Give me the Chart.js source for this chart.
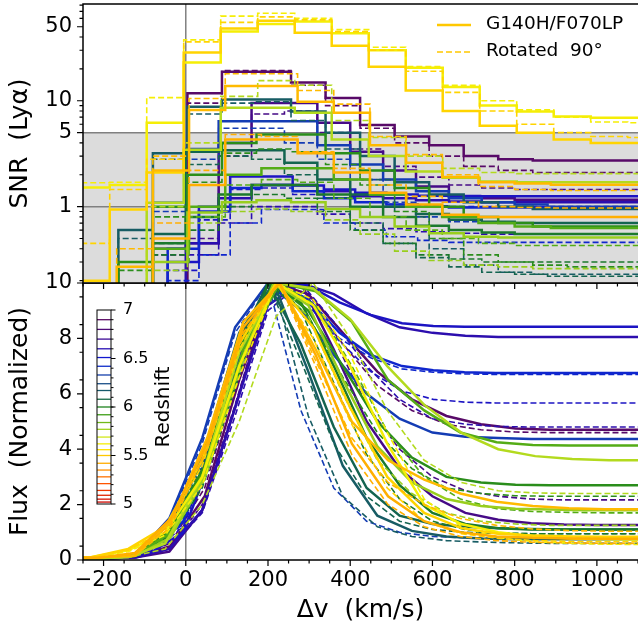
<!DOCTYPE html>
<html>
<head>
<meta charset="utf-8">
<script src="https://cdn.jsdelivr.net/npm/chart.js@4.4.1/dist/chart.umd.min.js"></script>
<style>
  html, body { margin: 0; padding: 0; background: #fff; }
  #wrap { position: relative; width: 638px; height: 628px; overflow: hidden; }
  #wrap canvas { position: absolute; left: 0; }
  #snrCanvas { top: 0; }
  #fluxCanvas { top: 270px; }
</style>
</head>
<body>
<div id="wrap">
  <canvas id="fluxCanvas" width="638" height="358"></canvas>
  <canvas id="snrCanvas" width="638" height="292"></canvas>
</div>
<script>
// axes
const xMin = -250, xMax = 1100;
const xTicks = [-200, 0, 200, 400, 600, 800, 1000];
const snrMin = 0.19, snrMax = 82;
const snrTicks = [1, 5, 10, 50];
const snrGuides = [1, 5];
const snrLimit = 5;
const fluxTicks = [0, 2, 4, 6, 8, 10];
const cbarTicks = [5, 5.5, 6, 6.5, 7];
const cbarLevels = [6.9, 6.8, 6.7, 6.6, 6.51, 6.42, 6.33, 6.24, 6.17, 6.08, 6.0, 5.92, 5.84, 5.77,
                    5.69, 5.62, 5.56, 5.5, 5.42, 5.35, 5.28, 5.21, 5.14, 5.09, 5.05, 5.02];
const legendLabels = ['G140H/F070LP', 'Rotated  90\u00b0'];

// velocity sampling of the spectra (km/s, bin centres)
const gridA = [-320, -230, -140, -50, 40, 130, 220, 310, 400, 490, 580, 670, 760, 850, 940, 1030, 1120, 1210];
const gridB = [-300, -212, -124, -36, 52, 140, 228, 316, 404, 492, 580, 668, 756, 844, 932, 1020, 1108, 1196];
const gridC = [-290, -206, -122, -38, 46, 130, 214, 298, 382, 466, 550, 634, 718, 802, 886, 970, 1054, 1138];
const gridD = [-280, -200, -120, -40, 40, 120, 200, 280, 360, 440, 520, 600, 680, 760, 840, 920, 1000, 1080, 1160];
const gridE = [-310, -234, -158, -82, -6, 70, 146, 222, 298, 374, 450, 526, 602, 678, 754, 830, 906, 982, 1058, 1134];

// one entry per galaxy, lowest redshift first
const objRedshift = [5.43, 5.46, 5.53, 5.62, 5.74, 5.78, 5.88, 5.97, 6.03, 6.10, 6.15, 6.35, 6.45, 6.55, 6.62, 6.75, 6.88];
const objGrid = [gridB, gridB, gridA, gridA, gridA, gridC, gridB, gridC, gridD, gridD, gridC, gridD, gridE, gridE, gridD, gridD, gridC];

const snrMain = [
  [0.05, 0.05, 0.05, 0.5, 1.6, 4.3, 4.3, 3.2, 2.1, 1.35, 1.05, 0.84, 0.8, 0.8, 0.8, 0.8, 0.8, 0.8],
  [0.05, 0.05, 0.27, 2.2, 8.2, 13.8, 13.8, 9.8, 7.7, 3.8, 2.6, 1.9, 1.7, 1.65, 1.61, 1.61, 1.61, 1.61],
  [0.2, 0.2, 0.94, 2.1, 28.6, 48, 57, 44, 33, 21, 12.5, 8.0, 5.8, 5.0, 4.3, 4.0, 4.0, 4.0],
  [1.5, 1.52, 1.6, 6.2, 23, 45, 53, 56, 43.5, 30, 20.5, 13.5, 9.0, 7.9, 7.1, 6.9, 6.9, 6.9],
  [0.05, 0.05, 0.05, 1.09, 3.45, 8.6, 8.6, 7.7, 4.3, 3.0, 2.15, 1.87, 1.73, 1.7, 1.7, 1.7, 1.7, 1.7],
  [0.05, 0.05, 0.05, 0.3, 0.88, 1.1, 1.15, 1.1, 0.95, 0.8, 0.65, 0.56, 0.52, 0.51, 0.51, 0.51, 0.51, 0.51],
  [0.05, 0.05, 0.05, 0.4, 1.0, 2.0, 2.3, 2.3, 1.8, 1.3, 1.0, 0.8, 0.7, 0.65, 0.63, 0.63, 0.63, 0.63],
  [0.05, 0.05, 0.3, 1.0, 2.0, 4.0, 4.8, 4.8, 3.2, 2.2, 1.5, 1.0, 0.8, 0.7, 0.65, 0.65, 0.65, 0.65],
  [0.05, 0.05, 0.05, 0.45, 0.8, 1.3, 1.6, 1.6, 1.3, 1.0, 0.8, 0.66, 0.6, 0.57, 0.55, 0.55, 0.55, 0.55, 0.55],
  [0.05, 0.05, 0.05, 0.55, 3.3, 3.4, 3.4, 2.6, 1.8, 1.3, 1.0, 0.85, 0.75, 0.72, 0.7, 0.7, 0.7, 0.7, 0.7],
  [0.05, 0.05, 0.6, 3.2, 8.8, 10.3, 10.3, 7.9, 5.0, 3.0, 1.7, 1.3, 1.1, 1.0, 0.95, 0.95, 0.95, 0.95],
  [0.05, 0.05, 0.05, 1.09, 3.5, 6.4, 6.4, 6.4, 3.8, 2.5, 1.8, 1.4, 1.2, 1.1, 1.05, 1.0, 1.0, 1.0, 1.0],
  [0.05, 0.05, 0.05, 0.05, 0.4, 0.9, 1.5, 1.6, 1.4, 1.2, 1.1, 1.05, 1.0, 0.98, 0.98, 0.98, 0.98, 0.98, 0.98, 0.98],
  [0.05, 0.05, 0.05, 0.05, 0.3, 1.0, 1.93, 1.93, 1.58, 1.45, 1.35, 1.3, 1.27, 1.26, 1.25, 1.25, 1.25, 1.25, 1.25, 1.25],
  [0.05, 0.05, 0.05, 0.05, 0.45, 1.2, 1.6, 1.6, 1.4, 1.25, 1.2, 1.15, 1.12, 1.1, 1.1, 1.1, 1.1, 1.1, 1.1],
  [0.05, 0.05, 0.05, 0.4, 0.45, 4.0, 9.5, 9.5, 6.2, 3.3, 2.2, 1.55, 1.25, 1.2, 1.16, 1.16, 1.16, 1.16, 1.16],
  [0.05, 0.05, 0.05, 0.05, 11.8, 18.8, 18.8, 14.9, 10.6, 5.9, 4.6, 3.8, 3.0, 2.8, 2.73, 2.73, 2.73, 2.73]
];

const snrRotated = [
  [0.05, 0.05, 0.1, 0.7, 2.2, 4.8, 4.6, 3.3, 2.3, 1.6, 1.25, 1.1, 1.0, 0.98, 0.97, 0.97, 0.97, 0.97],
  [0.05, 0.05, 0.4, 3.0, 10.5, 18, 18, 12.5, 9.3, 4.6, 3.1, 2.0, 1.55, 1.45, 1.42, 1.42, 1.42, 1.42],
  [0.45, 0.45, 1.45, 2.8, 36, 55, 62, 58, 45, 30, 19, 12, 8.0, 6.0, 5.0, 4.6, 4.5, 4.5],
  [1.68, 1.68, 1.7, 10.7, 37.6, 63, 67, 60, 47, 32, 21, 14, 10, 8.2, 7.0, 6.3, 6.2, 6.2],
  [0.05, 0.05, 0.05, 1.0, 4.0, 11, 15.5, 14, 6.5, 4.5, 3.0, 2.3, 2.1, 2.05, 2.05, 2.05, 2.05, 2.05],
  [0.05, 0.05, 0.05, 0.25, 0.7, 0.9, 0.95, 0.9, 0.75, 0.55, 0.38, 0.31, 0.28, 0.27, 0.26, 0.26, 0.26, 0.26],
  [0.05, 0.05, 0.05, 0.3, 0.8, 1.6, 1.8, 1.7, 1.2, 0.8, 0.6, 0.5, 0.45, 0.43, 0.43, 0.43, 0.43, 0.43],
  [0.05, 0.05, 0.25, 0.8, 1.7, 3.2, 3.5, 3.3, 2.5, 1.6, 0.9, 0.5, 0.35, 0.3, 0.28, 0.27, 0.27, 0.27],
  [0.05, 0.05, 0.05, 0.35, 0.6, 1.0, 1.3, 1.2, 0.9, 0.6, 0.45, 0.35, 0.32, 0.3, 0.3, 0.3, 0.3, 0.3, 0.3],
  [0.05, 0.05, 0.05, 0.45, 2.5, 3.0, 2.8, 2.0, 1.2, 0.7, 0.45, 0.33, 0.27, 0.24, 0.23, 0.22, 0.22, 0.22, 0.22],
  [0.05, 0.05, 0.5, 2.8, 7.5, 9.5, 9.8, 6.5, 3.5, 1.8, 0.8, 0.4, 0.28, 0.24, 0.23, 0.23, 0.23, 0.23],
  [0.05, 0.05, 0.05, 0.9, 2.8, 5.5, 5.5, 4.0, 2.8, 1.8, 1.1, 0.8, 0.72, 0.7, 0.7, 0.7, 0.7, 0.7, 0.7],
  [0.05, 0.05, 0.05, 0.05, 0.2, 0.35, 0.7, 0.94, 0.94, 0.7, 0.6, 0.52, 0.48, 0.46, 0.46, 0.46, 0.46, 0.46, 0.46, 0.46],
  [0.05, 0.05, 0.05, 0.05, 0.25, 0.75, 1.45, 1.5, 1.3, 1.2, 1.1, 1.05, 1.02, 1.0, 1.0, 1.0, 1.0, 1.0, 1.0, 1.0],
  [0.05, 0.05, 0.05, 0.05, 0.35, 0.7, 1.0, 1.0, 0.85, 0.7, 0.62, 0.58, 0.56, 0.55, 0.55, 0.55, 0.55, 0.55, 0.55],
  [0.05, 0.05, 0.05, 0.35, 0.5, 3.0, 7.5, 8.0, 5.0, 3.5, 2.4, 1.9, 1.6, 1.5, 1.45, 1.45, 1.45, 1.45, 1.45],
  [0.05, 0.05, 0.05, 0.3, 9.5, 19.3, 19.3, 14, 9.0, 5.5, 4.0, 3.0, 2.4, 2.2, 2.1, 2.1, 2.1, 2.1]
];

const fluxMain = [
  [0.05, 0.08, 0.25, 1.5, 4.2, 8.4, 10, 7.4, 4.2, 2.3, 1.4, 1.0, 0.85, 0.8, 0.78, 0.77, 0.77, 0.77],
  [0.08, 0.1, 0.15, 1.4, 4.4, 8.6, 10, 7.6, 5.0, 3.6, 2.9, 2.4, 2.1, 1.95, 1.87, 1.83, 1.83, 1.83],
  [0.05, 0.1, 0.4, 1.2, 3.6, 7.8, 10, 8.4, 5.5, 3.0, 1.7, 1.15, 0.95, 0.88, 0.85, 0.84, 0.84, 0.84],
  [0.05, 0.1, 0.35, 1.0, 3.0, 7.0, 10, 9.2, 7.0, 4.2, 2.0, 1.3, 1.0, 0.85, 0.78, 0.75, 0.74, 0.74],
  [0.05, 0.05, 0.1, 0.6, 3.0, 7.5, 10, 9.8, 8.7, 7.0, 5.6, 4.6, 4.0, 3.75, 3.65, 3.6, 3.6, 3.6],
  [0.05, 0.05, 0.15, 0.8, 3.0, 7.0, 10, 9.2, 6.5, 4.1, 2.8, 2.2, 1.95, 1.85, 1.82, 1.8, 1.8, 1.8],
  [0.05, 0.05, 0.15, 1.0, 3.4, 7.6, 10, 9.7, 8.6, 6.5, 5.4, 4.6, 4.25, 4.15, 4.13, 4.13, 4.13, 4.13],
  [0.05, 0.05, 0.2, 1.1, 3.4, 7.6, 10, 9.0, 7.0, 5.0, 3.7, 3.0, 2.8, 2.72, 2.7, 2.7, 2.7, 2.7],
  [0.05, 0.05, 0.15, 0.9, 2.8, 6.4, 10, 9.3, 7.0, 4.4, 2.7, 1.7, 1.3, 1.15, 1.1, 1.1, 1.1, 1.1, 1.1],
  [0.05, 0.05, 0.2, 1.1, 3.6, 7.6, 10, 7.8, 4.8, 2.6, 1.6, 1.3, 1.2, 1.15, 1.12, 1.1, 1.1, 1.1, 1.1],
  [0.05, 0.05, 0.2, 1.4, 4.0, 8.2, 10, 6.8, 3.4, 1.6, 1.05, 0.85, 0.78, 0.75, 0.75, 0.75, 0.75, 0.75],
  [0.05, 0.05, 0.2, 1.5, 4.4, 8.4, 10, 9.0, 7.4, 6.0, 5.1, 4.6, 4.45, 4.4, 4.37, 4.37, 4.37, 4.37, 4.37],
  [0.05, 0.05, 0.1, 0.4, 1.4, 4.6, 8.5, 10, 9.4, 8.2, 7.4, 7.0, 6.85, 6.78, 6.75, 6.75, 6.75, 6.75, 6.75, 6.75],
  [0.05, 0.05, 0.1, 0.3, 1.0, 4.0, 8.0, 10, 9.9, 9.3, 8.85, 8.55, 8.45, 8.42, 8.42, 8.42, 8.42, 8.42, 8.42, 8.42],
  [0.05, 0.05, 0.1, 0.4, 1.8, 5.5, 9.2, 10, 9.6, 8.9, 8.4, 8.2, 8.1, 8.05, 8.05, 8.05, 8.05, 8.05, 8.05],
  [0.05, 0.05, 0.1, 0.3, 1.8, 5.5, 9.5, 10, 7.6, 5.0, 3.3, 2.3, 1.7, 1.45, 1.33, 1.28, 1.26, 1.26, 1.26],
  [0.05, 0.05, 0.1, 0.5, 2.3, 6.5, 10, 9.6, 8.2, 6.8, 5.8, 5.2, 4.9, 4.75, 4.7, 4.7, 4.7, 4.7]
];

const fluxRotated = [
  [0.05, 0.08, 0.2, 1.3, 4.0, 8.2, 10, 7.0, 3.8, 2.0, 1.2, 0.85, 0.7, 0.64, 0.62, 0.6, 0.6, 0.6],
  [0.08, 0.1, 0.15, 1.2, 4.0, 8.2, 10, 7.2, 4.4, 2.8, 2.0, 1.5, 1.25, 1.12, 1.06, 1.04, 1.04, 1.04],
  [0.05, 0.1, 0.35, 1.1, 3.4, 7.6, 10, 8.0, 5.0, 2.6, 1.4, 0.95, 0.78, 0.7, 0.67, 0.66, 0.66, 0.66],
  [0.05, 0.1, 0.3, 0.9, 2.7, 6.6, 10, 9.4, 7.4, 4.6, 2.2, 1.2, 0.8, 0.66, 0.6, 0.57, 0.56, 0.56],
  [0.05, 0.05, 0.1, 0.4, 2.0, 5.0, 8.8, 10, 8.0, 5.4, 3.6, 2.8, 2.5, 2.42, 2.4, 2.4, 2.4, 2.4],
  [0.05, 0.05, 0.15, 0.8, 2.9, 6.8, 10, 8.8, 6.0, 3.6, 2.4, 1.7, 1.4, 1.3, 1.25, 1.25, 1.25, 1.25],
  [0.05, 0.05, 0.15, 0.9, 3.2, 7.4, 10, 9.2, 7.0, 4.6, 3.0, 2.2, 1.85, 1.75, 1.72, 1.7, 1.7, 1.7],
  [0.05, 0.05, 0.2, 1.0, 3.3, 7.4, 10, 8.8, 6.6, 4.6, 3.3, 2.6, 2.4, 2.32, 2.3, 2.3, 2.3, 2.3],
  [0.05, 0.05, 0.15, 0.8, 2.6, 6.2, 10, 9.0, 6.4, 3.8, 2.2, 1.4, 1.1, 0.98, 0.95, 0.95, 0.95, 0.95, 0.95],
  [0.05, 0.05, 0.2, 1.0, 3.4, 7.4, 10, 7.2, 4.2, 2.3, 1.4, 1.1, 1.0, 0.96, 0.95, 0.95, 0.95, 0.95, 0.95],
  [0.05, 0.05, 0.2, 1.3, 3.8, 8.0, 10, 5.2, 2.3, 1.2, 0.85, 0.7, 0.65, 0.62, 0.6, 0.6, 0.6, 0.6],
  [0.05, 0.05, 0.2, 1.4, 4.2, 8.2, 10, 5.4, 2.6, 1.4, 1.0, 0.85, 0.8, 0.78, 0.78, 0.78, 0.78, 0.78, 0.78],
  [0.05, 0.05, 0.1, 0.4, 1.3, 4.4, 8.3, 10, 9.3, 8.0, 7.3, 6.9, 6.78, 6.72, 6.7, 6.7, 6.7, 6.7, 6.7, 6.7],
  [0.05, 0.05, 0.1, 0.3, 1.2, 4.2, 8.2, 10, 9.2, 7.9, 6.8, 6.1, 5.8, 5.7, 5.67, 5.67, 5.67, 5.67, 5.67, 5.67],
  [0.05, 0.05, 0.1, 0.4, 1.7, 5.2, 9.0, 10, 8.6, 7.0, 5.8, 5.1, 4.9, 4.82, 4.8, 4.8, 4.8, 4.8, 4.8],
  [0.05, 0.05, 0.1, 0.4, 2.0, 5.6, 9.6, 10, 8.0, 5.6, 4.0, 3.0, 2.5, 2.3, 2.2, 2.17, 2.17, 2.17, 2.17],
  [0.05, 0.05, 0.1, 0.6, 2.6, 6.8, 10, 9.4, 7.8, 6.3, 5.4, 4.9, 4.7, 4.62, 4.6, 4.6, 4.6, 4.6]
];

// redshift colour map
const cmapStops = [
  [5.0, [200, 0, 0]], [5.2, [255, 80, 0]], [5.4, [255, 165, 0]], [5.5, [255, 200, 0]],
  [5.6, [255, 240, 0]], [5.7, [205, 230, 30]], [5.8, [140, 200, 30]], [5.9, [70, 165, 20]],
  [6.0, [30, 130, 30]], [6.1, [20, 100, 80]], [6.2, [25, 85, 120]], [6.3, [25, 70, 160]],
  [6.4, [15, 50, 200]], [6.5, [15, 25, 210]], [6.6, [40, 15, 180]], [6.7, [60, 10, 150]],
  [6.8, [80, 10, 120]], [6.9, [90, 10, 100]], [7.0, [50, 0, 50]]
];

function cmap(z) {
    let c = cmapStops[cmapStops.length - 1][1];
    if (z <= cmapStops[0][0]) c = cmapStops[0][1];
    for (let i = 1; i < cmapStops.length; i++) {
        const [z0, c0] = cmapStops[i - 1];
        const [z1, c1] = cmapStops[i];
        if (z >= z0 && z <= z1) {
            const t = (z - z0) / (z1 - z0);
            c = c0.map((v, k) => Math.round(v + (c1[k] - v) * t));
            break;
        }
    }
    return 'rgb(' + c.join(',') + ')';
}

function creaSerie(xs, ys, colore, tratteggiata, gradini) {
    return {
        data: xs.map((x, k) => ({ x: x, y: ys[k] })),
        borderColor: colore,
        borderWidth: tratteggiata ? 1.6 : 2.5,
        borderDash: tratteggiata ? [6, 3] : [],
        stepped: gradini ? 'middle' : false,
        tension: 0,
        pointRadius: 0,
        fill: false,
        clip: 0
    };
}

const snrSets = [];
const fluxSets = [];
objRedshift.forEach((z, i) => {
    const colore = cmap(z);
    snrSets.push(creaSerie(objGrid[i], snrMain[i], colore, false, true));
    snrSets.push(creaSerie(objGrid[i], snrRotated[i], colore, true, true));
    fluxSets.push(creaSerie(objGrid[i], fluxMain[i], colore, false, false));
    fluxSets.push(creaSerie(objGrid[i], fluxRotated[i], colore, true, false));
});

// minor ticks
const xMinor = [];
for (let v = xMin; v <= xMax; v += 50) if (!xTicks.includes(v)) xMinor.push(v);
const snrMinor = [];
[0.1, 1, 10].forEach(d => { for (let m = 2; m <= 9; m++) { const v = m * d; if (v >= snrMin && v <= snrMax && !snrTicks.includes(v)) snrMinor.push(v); } });
const fluxMinor = [];
for (let v = 0.5; v < 10; v += 1) fluxMinor.push(v);

function disegnaCornice(chart, yMajor, yMinor) {
    const { ctx, chartArea: a, scales: { x, y } } = chart;
    ctx.save();
    ctx.strokeStyle = '#000';
    ctx.lineWidth = 1.2;
    ctx.beginPath();
    xTicks.forEach(v => { const p = x.getPixelForValue(v); ctx.moveTo(p, a.bottom); ctx.lineTo(p, a.bottom + 6); });
    xMinor.forEach(v => { const p = x.getPixelForValue(v); ctx.moveTo(p, a.bottom); ctx.lineTo(p, a.bottom + 3.5); });
    yMajor.forEach(v => { const p = y.getPixelForValue(v); ctx.moveTo(a.left, p); ctx.lineTo(a.left - 6, p); });
    yMinor.forEach(v => { const p = y.getPixelForValue(v); ctx.moveTo(a.left, p); ctx.lineTo(a.left - 3.5, p); });
    ctx.stroke();
    ctx.lineWidth = 1.5;
    ctx.beginPath();
    ctx.moveTo(a.right + 2, a.top);
    ctx.lineTo(a.left, a.top);
    ctx.lineTo(a.left, a.bottom);
    ctx.lineTo(a.right + 2, a.bottom);
    ctx.stroke();
    ctx.restore();
}

function lineaZero(chart) {
    const { ctx, chartArea: a, scales: { x } } = chart;
    const x0 = x.getPixelForValue(0);
    ctx.save();
    ctx.strokeStyle = '#808080';
    ctx.lineWidth = 1.5;
    ctx.beginPath();
    ctx.moveTo(x0, a.top);
    ctx.lineTo(x0, a.bottom);
    ctx.stroke();
    ctx.restore();
}

const snrDecor = {
    id: 'snrDecor',
    beforeDatasetsDraw(chart) {
        const { ctx, chartArea: a, scales: { y } } = chart;
        const yLim = y.getPixelForValue(snrLimit);
        ctx.save();
        ctx.fillStyle = '#dcdcdc';
        ctx.fillRect(a.left, yLim, a.right - a.left, a.bottom - yLim);
        ctx.strokeStyle = '#808080';
        ctx.lineWidth = 1.5;
        ctx.beginPath();
        snrGuides.forEach(v => { const p = y.getPixelForValue(v); ctx.moveTo(a.left, p); ctx.lineTo(a.right, p); });
        ctx.stroke();
        ctx.restore();
        lineaZero(chart);
    },
    afterDatasetsDraw(chart) {
        disegnaCornice(chart, snrTicks, snrMinor);
        const { ctx, chartArea: a } = chart;
        const colore = cmap(5.5);
        ctx.save();
        ctx.strokeStyle = colore;
        ctx.lineWidth = 2.5;
        ctx.beginPath();
        ctx.moveTo(a.right - 201, a.top + 21);
        ctx.lineTo(a.right - 167, a.top + 21);
        ctx.stroke();
        ctx.lineWidth = 1.6;
        ctx.setLineDash([6, 3]);
        ctx.beginPath();
        ctx.moveTo(a.right - 201, a.top + 48);
        ctx.lineTo(a.right - 167, a.top + 48);
        ctx.stroke();
        ctx.fillStyle = '#000';
        ctx.font = "18.5px 'DejaVu Sans'";
        ctx.textBaseline = 'middle';
        ctx.textAlign = 'left';
        ctx.fillText(legendLabels[0], a.right - 152, a.top + 20);
        ctx.fillText(legendLabels[1], a.right - 152, a.top + 47.5);
        ctx.restore();
    }
};

const fluxDecor = {
    id: 'fluxDecor',
    beforeDatasetsDraw(chart) {
        lineaZero(chart);
    },
    afterDatasetsDraw(chart) {
        disegnaCornice(chart, fluxTicks, fluxMinor);
        const { ctx, chartArea: a } = chart;
        const left = a.left + 14, top = a.top + 27, w = 14, h = 194;
        const zy = z => top + (7 - z) / 2 * h;
        ctx.save();
        ctx.fillStyle = '#fff';
        ctx.fillRect(left, top, w, h);
        ctx.lineWidth = 1.3;
        cbarLevels.forEach(z => {
            ctx.strokeStyle = cmap(z);
            ctx.beginPath();
            ctx.moveTo(left, zy(z));
            ctx.lineTo(left + w, zy(z));
            ctx.stroke();
        });
        ctx.strokeStyle = '#000';
        ctx.lineWidth = 1;
        ctx.strokeRect(left, top, w, h);
        ctx.beginPath();
        for (let k = 1; k < 20; k++) {
            const p = zy(5 + k * 0.1);
            ctx.moveTo(left + w, p);
            ctx.lineTo(left + w + 2.5, p);
        }
        cbarTicks.forEach(z => { ctx.moveTo(left + w, zy(z)); ctx.lineTo(left + w + 4.5, zy(z)); });
        ctx.stroke();
        ctx.fillStyle = '#000';
        ctx.font = "16px 'DejaVu Sans'";
        ctx.textBaseline = 'middle';
        ctx.textAlign = 'left';
        cbarTicks.forEach(z => ctx.fillText(String(z), left + w + 12, zy(z)));
        ctx.translate(left + w + 53, top + h / 2);
        ctx.rotate(-Math.PI / 2);
        ctx.textAlign = 'center';
        ctx.font = "20px 'DejaVu Sans'";
        ctx.fillText('Redshift', 0, 0);
        ctx.restore();
    }
};

Chart.defaults.font.family = "'DejaVu Sans', sans-serif";
Chart.defaults.color = '#000';

const commonPlugins = { legend: { display: false }, tooltip: { enabled: false } };

const snrChart = new Chart(document.getElementById('snrCanvas'), {
    type: 'line',
    data: { datasets: snrSets },
    options: {
        responsive: false,
        animation: false,
        events: [],
        layout: { padding: { top: 4, left: 0, right: 0, bottom: 0 }, autoPadding: false },
        plugins: commonPlugins,
        scales: {
            x: {
                type: 'linear', min: xMin, max: xMax, bounds: 'data',
                ticks: { display: false },
                grid: { display: false, drawTicks: false },
                border: { display: false },
                afterFit: s => { s.height = 9; s.paddingLeft = 0; s.paddingRight = 0; }
            },
            y: {
                type: 'logarithmic', min: snrMin, max: snrMax, bounds: 'data',
                afterBuildTicks: s => { s.ticks = snrTicks.map(v => ({ value: v })); },
                ticks: { font: { size: 21, lineHeight: 1 }, color: '#000', padding: 11, autoSkip: false, callback: v => String(v) },
                grid: { display: false, drawTicks: false },
                border: { display: false },
                title: { display: true, text: 'SNR  (Ly\u03b1)', font: { size: 25 }, color: '#000', padding: { top: 5, bottom: 0 } },
                afterFit: s => { s.width = 83; s.paddingTop = 0; s.paddingBottom = 0; }
            }
        }
    },
    plugins: [snrDecor]
});

const fluxChart = new Chart(document.getElementById('fluxCanvas'), {
    type: 'line',
    data: { datasets: fluxSets },
    options: {
        responsive: false,
        animation: false,
        events: [],
        layout: { padding: { top: 13, left: 0, right: 0, bottom: 0 }, autoPadding: false },
        plugins: commonPlugins,
        scales: {
            x: {
                type: 'linear', min: xMin, max: xMax, bounds: 'data',
                afterBuildTicks: s => { s.ticks = xTicks.map(v => ({ value: v })); },
                ticks: { font: { size: 21 }, color: '#000', padding: 8, autoSkip: false, maxRotation: 0,
                         callback: v => v < 0 ? '\u2212' + Math.abs(v) : String(v) },
                grid: { display: false, drawTicks: false },
                border: { display: false },
                title: { display: true, text: '\u0394v  (km/s)', font: { size: 25 }, color: '#000', padding: { top: 0, bottom: 3 } },
                afterFit: s => { s.height = 68; s.paddingLeft = 0; s.paddingRight = 0; }
            },
            y: {
                type: 'linear', min: 0, max: 10, bounds: 'data',
                afterBuildTicks: s => { s.ticks = fluxTicks.map(v => ({ value: v })); },
                ticks: { font: { size: 21, lineHeight: 1 }, color: '#000', padding: 11, autoSkip: false },
                grid: { display: false, drawTicks: false },
                border: { display: false },
                title: { display: true, text: 'Flux  (Normalized)', font: { size: 25 }, color: '#000', padding: { top: 5, bottom: 0 } },
                afterFit: s => { s.width = 83; s.paddingTop = 0; s.paddingBottom = 0; }
            }
        }
    },
    plugins: [fluxDecor]
});
</script>
</body>
</html>
